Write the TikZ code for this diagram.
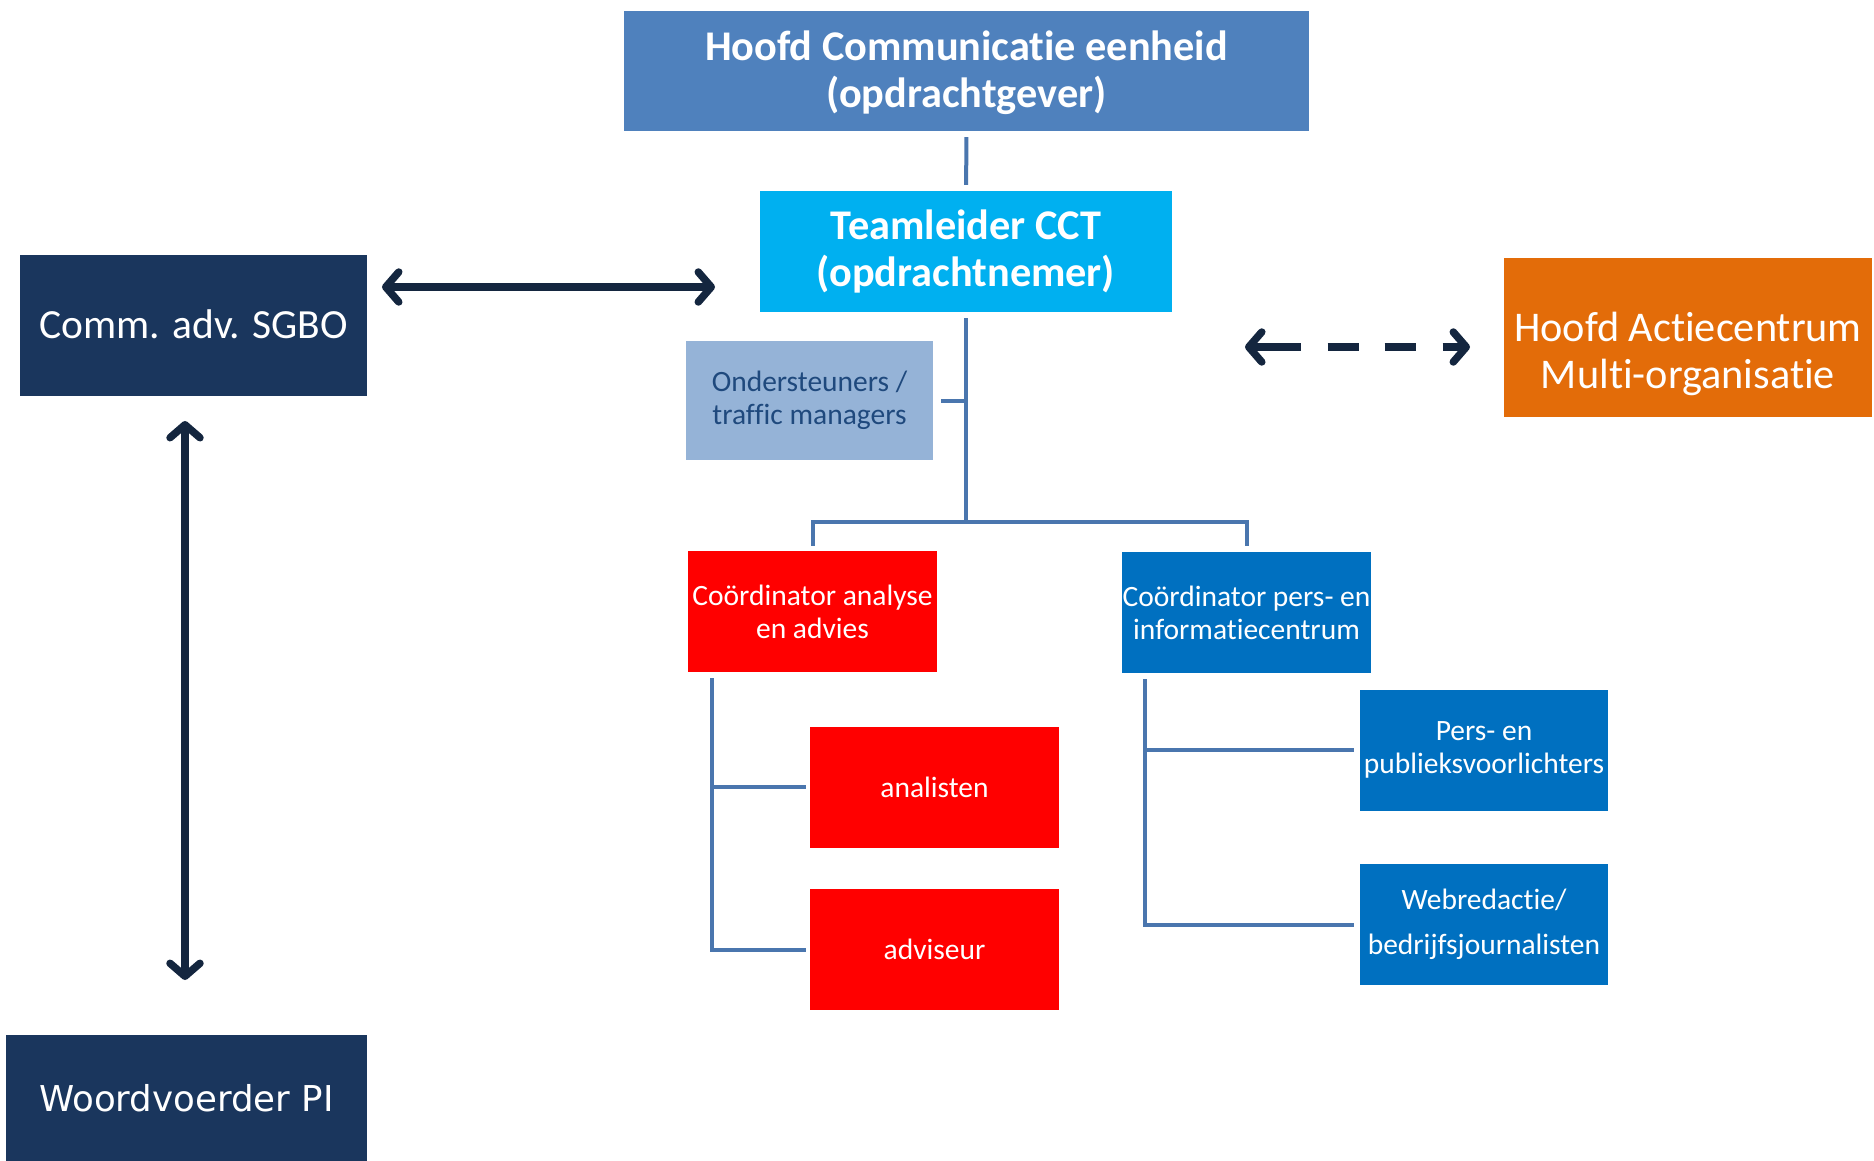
\documentclass[tikz,border=0pt]{standalone}
\usepackage{fontspec}
\setmainfont{Carlito}[Ligatures=NoCommon]
\newfontfamily\dejavu{DejaVu Sans}
\usetikzlibrary{arrows.meta}
\definecolor{hoofdblue}{HTML}{4F81BD}
\definecolor{teamcyan}{HTML}{00B0F0}
\definecolor{navy}{HTML}{1A365D}
\definecolor{arrownavy}{HTML}{14263F}
\definecolor{orangebox}{HTML}{E36C09}
\definecolor{lightblue}{HTML}{95B3D7}
\definecolor{ondtext}{HTML}{1F497D}
\definecolor{redbox}{HTML}{FF0000}
\definecolor{bluebox}{HTML}{0070C0}
\definecolor{connblue}{HTML}{4A76AE}
\tikzset{
  box/.style={inner sep=0pt, align=center, text=white},
  bighead/.style={box, font=\fontsize{42.3}{47}\selectfont\bfseries},
  sidebox/.style={box, fill=navy, font=\fontsize{41.5}{47}\selectfont},
  smallbox/.style={box, font=\fontsize{29.5}{33}\selectfont, minimum width=249pt, minimum height=121pt},
  conn/.style={draw=connblue, line width=4pt},
  biarrow/.style={draw=arrownavy, line width=7.5pt,
    {Straight Barb[length=13pt, width=30pt, round]}-{Straight Barb[length=13pt, width=30pt, round]}},
}
\begin{document}
\begin{tikzpicture}[x=1pt, y=-1pt]
\useasboundingbox (0,0) rectangle (1874,1161);
\fill[white] (0,0) rectangle (1874,1161);

% boxes
\node[fill=hoofdblue, inner sep=0pt, minimum width=685pt, minimum height=120pt] (hoofd) at (966.5,71) {};
\node[bighead] (hoofdtext) at ([yshift=-2pt]hoofd.center)
  {Hoofd Communicatie eenheid\\(opdrachtgever)};
\node[bighead, fill=teamcyan, minimum width=412pt, minimum height=121pt] (team) at (966,251.5)
  {Teamleider CCT\\(opdrachtnemer)};
\node[sidebox, minimum width=347pt, minimum height=141pt] (comm) at (193.5,325.5)
  {\raisebox{2pt}{Comm. adv. SGBO}};
\node[sidebox, font=\dejavu\fontsize{35.6}{42}\selectfont, minimum width=361pt, minimum height=126pt] (woord) at (186.5,1098)
  {Woordvoerder PI};
\node[fill=orangebox, inner sep=0pt, minimum width=368pt, minimum height=159pt] (actie) at (1688,337.5) {};
\node[box, font=\fontsize{42.3}{47}\selectfont] (actietext) at ([yshift=-16pt]actie.center)
  {Hoofd Actiecentrum\\Multi-organisatie};
\node[box, fill=lightblue, text=ondtext, font=\fontsize{29.5}{33}\selectfont, minimum width=247pt, minimum height=119pt] (onder) at (809.5,400.5)
  {Ondersteuners /\\traffic managers};
\node[smallbox, fill=redbox] (coa) at (812.5,611.5) {Coördinator analyse\\en advies};
\node[smallbox, fill=bluebox] (cop) at (1246.5,612.5) {Coördinator pers- en\\informatiecentrum};
\node[smallbox, fill=redbox] (anal) at (934.5,787) {analisten};
\node[smallbox, fill=redbox] (advi) at (934.5,949.5) {adviseur};
\node[smallbox, fill=bluebox, minimum width=248pt] (pers) at (1484,750) {Pers- en\\publieksvoorlichters};
\node[smallbox, fill=bluebox, minimum width=248pt, font=\fontsize{29.5}{45}\selectfont] (web) at (1484,924.5) {Webredactie/\\bedrijfsjournalisten};

% tree connectors
\coordinate (j) at (966,522);
\coordinate (lb) at (712,678);
\coordinate (rb) at (1145,679);
\draw[conn, shorten <=6pt, shorten >=6pt] (hoofd) -- (team);
\draw[conn] ([yshift=-6pt]team.south) -- (j);
\draw[conn] ([yshift=5pt]coa.north) |- (j) -| ([yshift=6pt]cop.north);
\draw[conn] ([xshift=8pt]onder.east) -- (onder.east -| j);
\draw[conn] (lb) |- ([xshift=-4pt]advi.west);
\draw[conn] (lb |- anal.west) -- ([xshift=-4pt]anal.west);
\draw[conn] (rb) |- ([xshift=-6pt]web.west);
\draw[conn] (rb |- pers.west) -- ([xshift=-6pt]pers.west);

% arrows
\coordinate (h1) at (382,287);
\coordinate (h2) at (715,287);
\coordinate (v1) at (185,421);
\coordinate (v2) at (185,980);
\coordinate (d1) at (1245,347);
\coordinate (d2) at (1470,347);
\draw[biarrow] (h1) -- (h2);
\draw[biarrow] (v1) -- (v2);
\draw[biarrow, dash pattern=on 48pt off 27pt on 31pt off 26pt on 31pt off 27pt on 40pt] (d1) -- (d2);
\end{tikzpicture}
\end{document}
